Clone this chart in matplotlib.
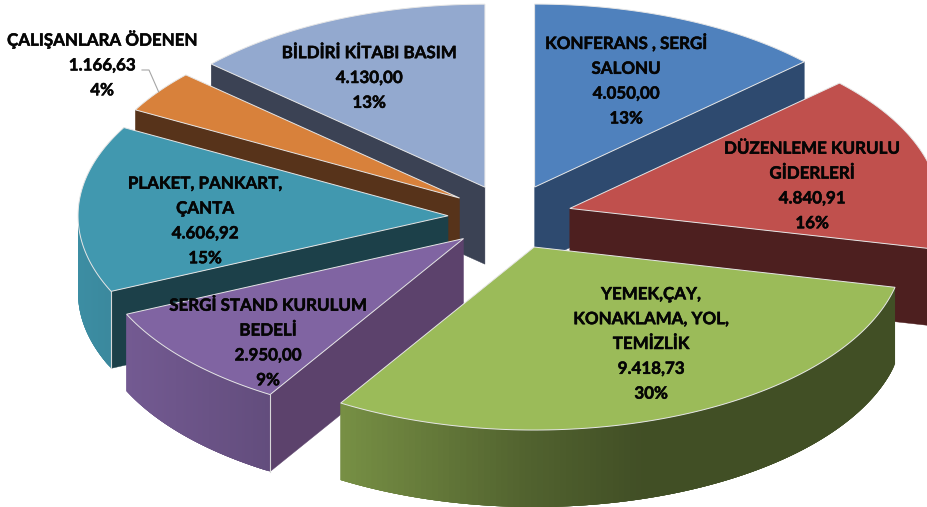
import numpy as np
import matplotlib
matplotlib.use('Agg')
import matplotlib.pyplot as plt
import matplotlib.patheffects as pe
from matplotlib.colors import to_rgb
from matplotlib.patches import Polygon

plt.rcParams['font.family'] = ['Lato', 'DejaVu Sans']

# chart data, clockwise from 12 o'clock
names = ['KONFERANS , SERGİ\nSALONU', 'DÜZENLEME KURULU\nGİDERLERİ',
         'YEMEK,ÇAY,\nKONAKLAMA, YOL,\nTEMİZLİK', 'SERGİ STAND KURULUM\nBEDELİ',
         'PLAKET, PANKART,\nÇANTA', 'ÇALIŞANLARA ÖDENEN', 'BİLDİRİ KİTABI BASIM']
values = [4050.00, 4840.91, 9418.73, 2950.00, 4606.92, 1166.63, 4130.00]

top_colors = ['#4f81bd', '#c0504d', '#9bbb59', '#8064a2', '#4198af', '#d8813b', '#93a9cf']
cut_colors = ['#2e4a6f', '#4d1f1f', '#3f4a22', '#5c426c', '#1c4049', '#57331a', '#3b4254']

# centre of each label block, in pixels
label_x = [626, 812, 651, 268, 205, 102, 369]
label_y = [80, 186, 344, 343, 221, 64, 78]

# pie geometry in pixels of the 927x507 figure
cx, cy = 510.0, 217.0
rx, ry = 370.0, 183.0
explode_x, explode_y = 62.0, 32.6
depth = 77.0

# wall shading against sin(angle): lighter on the left, darker on the right
shade_s = [-1.0, -0.52, 0.0, 0.3, 1.0]
shade_f = [0.93, 0.77, 0.52, 0.42, 0.42]


def fmt_value(v):
    s = '{:,.2f}'.format(v)
    return s.replace(',', '#').replace('.', ',').replace('#', '.')


def arc(ax0, ay0, t):
    return ax0 + rx * np.sin(t), ay0 - ry * np.cos(t)


def extrude(x0, y0, x1, y1):
    return [(x0, y0), (x1, y1), (x1, y1 + depth), (x0, y0 + depth)]


fig = plt.figure(figsize=(9.27, 5.07), dpi=100)
ax = fig.add_axes([0, 0, 1, 1])
ax.set_xlim(0, 927)
ax.set_ylim(507, 0)
ax.axis('off')

vals = np.array(values)
shares = vals / vals.sum()
edges = np.concatenate([[0.0], np.cumsum(shares)]) * 2 * np.pi
mids = 0.5 * (edges[:-1] + edges[1:])

apex_x = cx + explode_x * np.sin(mids)
apex_y = cy - explode_y * np.cos(mids)

# painter's order: slices further back first
for z, i in enumerate(np.argsort(apex_y)):
    t = np.linspace(edges[i], edges[i + 1], 120)
    xa, ya = arc(apex_x[i], apex_y[i], t)
    xm, ym = arc(apex_x[i], apex_y[i], mids[i])
    base = np.array(to_rgb(top_colors[i]))

    # the two cut faces, only when they look towards the viewer
    for xe, ye in [(xa[0], ya[0]), (xa[-1], ya[-1])]:
        if abs(xe - apex_x[i]) < 1:
            continue
        yline = apex_y[i] + (ye - apex_y[i]) * (xm - apex_x[i]) / (xe - apex_x[i])
        if ym < yline:
            ax.add_patch(Polygon(extrude(apex_x[i], apex_y[i], xe, ye), closed=True,
                                 fc=cut_colors[i], ec=cut_colors[i], lw=0.3, zorder=z * 10 + 1))

    # outer wall as narrow strips, each one running over the next so no seams show
    down = np.where(np.cos(t) < 0)[0]
    if len(down) > 1:
        for n, k in enumerate(down[:-1]):
            j = down[min(n + 4, len(down) - 1)]
            xs = np.r_[xa[k:j + 1], xa[k:j + 1][::-1]]
            ys = np.r_[ya[k:j + 1], ya[k:j + 1][::-1] + depth]
            ax.fill(xs, ys, color=base * np.interp(np.sin(t[k]), shade_s, shade_f), lw=0,
                    zorder=z * 10 + 2)
        # light corner where the wall meets the cut
        if np.cos(t[0]) < 0 and np.sin(t[0]) < 0:
            ax.plot([xa[0], xa[0]], [ya[0], ya[0] + depth], color='#d8d8d8', lw=0.8,
                    zorder=z * 10 + 3)

    top = np.column_stack([np.r_[apex_x[i], xa], np.r_[apex_y[i], ya]])
    ax.add_patch(Polygon(top, closed=True, fc=top_colors[i], ec='#e6e6e6', lw=0.7,
                         zorder=z * 10 + 4))

# leader line of the small slice
small = int(np.argmin(vals))
xl, yl = arc(apex_x[small], apex_y[small], mids[small])
ax.plot([142, 149, xl], [70, 70, yl], color='#a6a6a6', lw=0.8, zorder=200)

for i in range(len(values)):
    txt = names[i] + '\n' + fmt_value(values[i]) + '\n' + '{:.0f}%'.format(shares[i] * 100)
    tx = ax.text(label_x[i], label_y[i], txt, ha='center', va='center', fontsize=12.2,
                 fontweight='bold', color='#050505', linespacing=1.68, zorder=300)
    tx.set_path_effects([pe.withStroke(linewidth=0.35, foreground='#050505')])

fig.savefig('out.png', dpi=100)
